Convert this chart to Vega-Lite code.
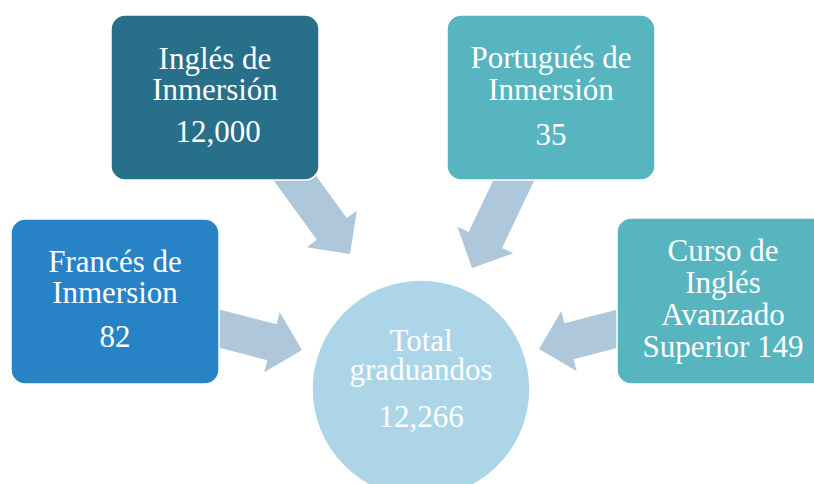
{
  "$schema": "https://vega.github.io/schema/vega-lite/v6.json",
  "width": 814,
  "height": 484,
  "autosize": {"type": "none"},
  "padding": 0,
  "background": "white",
  "config": {"view": {"stroke": null}},
  "datasets": {
    "arrows": [
      {"from": "Inglés de Inmersión", "x": 350, "y": 254, "dir": 54},
      {"from": "Portugués de Inmersión", "x": 472, "y": 268, "dir": 115.5},
      {"from": "Francés de Inmersion", "x": 302, "y": 350, "dir": 14.5},
      {"from": "Curso de Inglés Avanzado Superior", "x": 539, "y": 349, "dir": 165.5}
    ],
    "boxes": [
      {"name": "Inglés de Inmersión", "kind": "dark", "x1": 111, "x2": 319, "y1": 15, "y2": 180},
      {"name": "Portugués de Inmersión", "kind": "teal", "x1": 447, "x2": 655, "y1": 15, "y2": 180},
      {"name": "Francés de Inmersion", "kind": "blue", "x1": 11, "x2": 219, "y1": 219, "y2": 384},
      {"name": "Curso de Inglés Avanzado Superior", "kind": "teal", "x1": 617, "x2": 830, "y1": 218, "y2": 384}
    ],
    "total": [
      {"name": "Total graduandos", "x": 421, "y": 389, "kind": "total"}
    ],
    "lines": [
      {"t": "Inglés de", "x": 215, "y": 69},
      {"t": "Inmersión", "x": 215, "y": 100},
      {"t": "12,000", "x": 218, "y": 142},
      {"t": "Portugués de", "x": 551, "y": 68},
      {"t": "Inmersión", "x": 551, "y": 100},
      {"t": "35", "x": 551, "y": 145},
      {"t": "Francés de", "x": 115, "y": 272},
      {"t": "Inmersion", "x": 115, "y": 303},
      {"t": "82", "x": 115, "y": 347},
      {"t": "Curso de", "x": 723, "y": 261},
      {"t": "Inglés", "x": 723, "y": 293},
      {"t": "Avanzado", "x": 723, "y": 325},
      {"t": "Superior 149", "x": 723, "y": 357},
      {"t": "Total", "x": 421, "y": 351},
      {"t": "graduandos", "x": 421, "y": 380},
      {"t": "12,266", "x": 421, "y": 427}
    ]
  },
  "layer": [
    {
      "data": {"name": "arrows"},
      "mark": {
        "type": "point",
        "shape": "M0,0 L-0.62,-0.62 L-0.62,-0.37 L-2.2,-0.37 L-2.2,0.37 L-0.62,0.37 L-0.62,0.62 Z",
        "size": 10000,
        "filled": true,
        "fill": "#aec7da",
        "opacity": 1,
        "strokeWidth": 0
      },
      "encoding": {
        "x": {"field": "x", "type": "quantitative", "scale": {"domain": [0, 814], "range": [0, 814]}, "axis": null},
        "y": {"field": "y", "type": "quantitative", "scale": {"domain": [0, 484], "range": [0, 484]}, "axis": null},
        "angle": {"field": "dir", "type": "quantitative", "scale": null}
      }
    },
    {
      "data": {"name": "boxes"},
      "mark": {"type": "rect", "cornerRadius": 14, "stroke": "white", "strokeWidth": 1.5},
      "encoding": {
        "x": {"field": "x1", "type": "quantitative", "scale": {"domain": [0, 814], "range": [0, 814]}, "axis": null},
        "x2": {"field": "x2"},
        "y": {"field": "y1", "type": "quantitative", "scale": {"domain": [0, 484], "range": [0, 484]}, "axis": null},
        "y2": {"field": "y2"},
        "fill": {
          "field": "kind", "type": "nominal", "legend": null,
          "scale": {"domain": ["dark", "blue", "teal", "total"], "range": ["#286f8a", "#2783c6", "#57b5c0", "#acd6e7"]}
        }
      }
    },
    {
      "data": {"name": "total"},
      "mark": {"type": "point", "shape": "circle", "size": 47524, "filled": true, "opacity": 1, "stroke": "white", "strokeWidth": 1.5},
      "encoding": {
        "x": {"field": "x", "type": "quantitative", "scale": {"domain": [0, 814], "range": [0, 814]}, "axis": null},
        "y": {"field": "y", "type": "quantitative", "scale": {"domain": [0, 484], "range": [0, 484]}, "axis": null},
        "fill": {
          "field": "kind", "type": "nominal", "legend": null,
          "scale": {"domain": ["dark", "blue", "teal", "total"], "range": ["#286f8a", "#2783c6", "#57b5c0", "#acd6e7"]}
        }
      }
    },
    {
      "data": {"name": "lines"},
      "mark": {"type": "text", "font": "Liberation Serif", "fontSize": 31, "color": "white", "align": "center", "baseline": "alphabetic"},
      "encoding": {
        "x": {"field": "x", "type": "quantitative", "scale": {"domain": [0, 814], "range": [0, 814]}, "axis": null},
        "y": {"field": "y", "type": "quantitative", "scale": {"domain": [0, 484], "range": [0, 484]}, "axis": null},
        "text": {"field": "t", "type": "nominal"}
      }
    }
  ]
}
